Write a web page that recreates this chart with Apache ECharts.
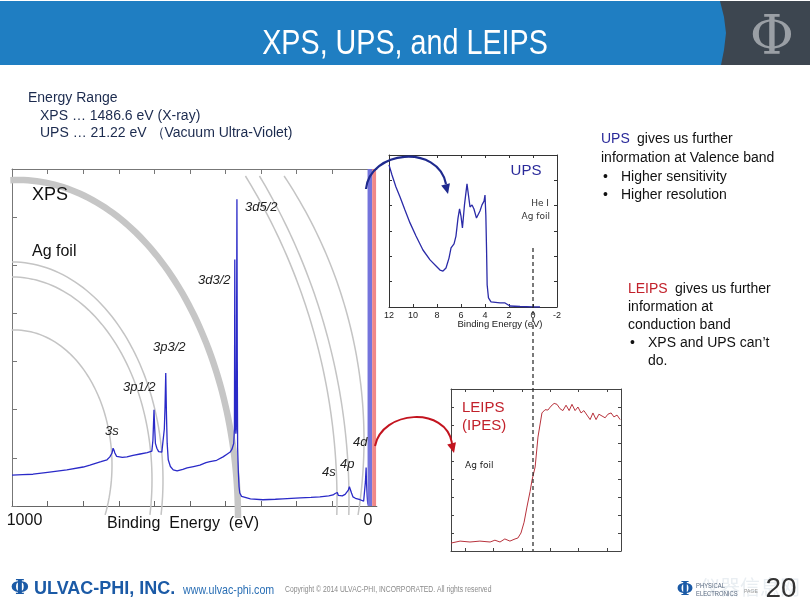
<!DOCTYPE html>
<html><head><meta charset="utf-8">
<script src="https://cdn.jsdelivr.net/npm/echarts@6/dist/echarts.min.js"></script>
<style>html,body{margin:0;padding:0;background:#fff}#c{width:810px;height:608px}</style>
</head><body><div id="c"></div>
<script>
// ---------------- DATA ----------------
const xpsBindingEnergy = [1000,970,941,900,846,800,781,750,733,725,719,716,713,711,706,702,690,677,660,640,620,607,604,601,599,597,593,588,584,579,576,572,570,568,566,564,561,555,547,536,520,508,490,472,455,444,425,407,395,387,382,379,377,375,374,373,371,370,369,368,367,366,364,362,360,355,351,330,295,260,239,215,190,160,135,110,98,92,88,86,83,80,72,64,59,55,52,49,46,42,35,22,12,9,7,5,4,2,1,0,-2];
const xpsIntensity     = [0.64,0.65,0.66,0.70,0.75,0.81,0.85,0.92,0.96,1.02,1.10,1.20,1.15,1.10,1.03,1.00,1.01,1.02,1.05,1.08,1.11,1.14,1.37,2.00,1.60,1.30,1.20,1.13,1.10,1.12,1.16,1.60,2.06,2.76,1.90,1.30,0.96,0.82,0.75,0.73,0.76,0.79,0.82,0.85,0.90,0.92,0.95,1.02,1.08,1.12,1.18,1.22,1.30,1.60,5.12,2.00,1.50,1.60,3.50,6.37,3.00,1.20,0.70,0.40,0.27,0.20,0.17,0.15,0.13,0.14,0.15,0.16,0.17,0.18,0.19,0.21,0.23,0.26,0.30,0.28,0.22,0.20,0.21,0.24,0.27,0.33,0.40,0.38,0.27,0.19,0.16,0.13,0.10,0.12,0.50,0.80,0.50,0.20,0.10,0.05,0.02];
const xpsTickValues  = [0,100,200,300,400,500,600,700,800,900,1000];
const xpsTickLabels  = [0,1000];
const upsBindingEnergy = [12.0,11.75,11.42,11.08,10.67,10.25,9.75,9.17,8.58,8.08,7.75,7.5,7.25,7.0,6.83,6.58,6.42,6.25,6.12,6.0,5.88,5.71,5.5,5.38,5.25,5.08,4.92,4.71,4.58,4.42,4.25,4.08,4.0,3.93,3.87,3.82,3.71,3.5,2.75,2.33,2.17,1.92,1.08,0,-0.58];
const upsIntensity     = [5.61,5.21,4.74,4.34,3.83,3.32,2.80,2.25,1.86,1.62,1.46,1.42,1.54,1.93,2.33,2.49,2.80,3.51,3.87,3.59,3.12,4.03,4.86,4.42,3.95,4.03,3.87,3.51,3.51,3.79,4.03,4.18,4.42,3.63,2.25,0.87,0.36,0.20,0.16,0.16,0.12,0.04,0.02,0.0,0.0];
const upsTickLabels = [12,10,8,6,4,2,0,-2];
const leipsEnergy    = [-2.90,-2.58,-2.23,-1.88,-1.52,-1.35,-1.17,-1.00,-0.82,-0.64,-0.54,-0.43,-0.32,-0.22,-0.11,-0.04,0.07,0.17,0.31,0.42,0.52,0.63,0.74,0.84,0.95,1.05,1.16,1.27,1.37,1.48,1.58,1.69,1.79,1.90,2.01,2.11,2.22,2.32,2.43,2.54,2.64,2.75,2.85,2.96,3.07];
const leipsIntensity = [0.44,0.55,0.50,0.55,0.50,0.60,0.50,0.67,0.55,0.67,0.72,1.00,1.60,2.44,3.30,3.94,4.67,6.33,7.67,7.85,7.83,8.05,8.20,8.15,7.90,7.80,8.10,7.80,8.15,7.80,8.00,7.67,7.80,7.55,7.30,7.67,7.30,7.60,7.50,7.40,7.60,7.67,7.45,7.55,7.30];
const leipsTickValues = [-2.4,-1.4,-0.4,0.6,1.6,2.6];
const xpsPeakNames = ['3d5/2','3d3/2','3p3/2','3p1/2','3s','4s','4p','4d'];

// ---------------- LAYOUT / STYLE ----------------
const FONT = "'Liberation Sans', Arial, sans-serif";
const peakLabelPos = [[245,207],[198,280],[153,347],[123,387],[105,431],[322,472],[340,464],[353,442]];

const chart = echarts.init(document.getElementById('c'), null, {renderer:'canvas'});
const zip = (a,b)=>a.map((v,i)=>[v,b[i]]);

function axisCfg(o){return Object.assign({type:'value',splitLine:{show:false},axisLabel:{show:false}},o);}
function line(c,w){return {show:true,onZero:false,lineStyle:{color:c,width:w||1}};}
function tick(c,len,extra){return Object.assign({show:true,inside:true,length:len,lineStyle:{color:c}},extra||{});}

const option = {
  animation:false,
  backgroundColor:'#ffffff',
  grid:[
    {left:12,top:169,width:364.8,height:337,outerBoundsMode:'none',containLabel:false},
    {left:389,top:155,width:168,height:152,outerBoundsMode:'none',containLabel:false},
    {left:451,top:389,width:170,height:162,outerBoundsMode:'none',containLabel:false}
  ],
  xAxis:[
    axisCfg({gridIndex:0,min:-25,max:1000,inverse:true,position:'bottom',
      axisLine:line('#666',1.2),
      axisTick:tick('#666',5,{customValues:xpsTickValues}),
      axisLabel:{show:true,customValues:xpsTickLabels,margin:7,color:'#111',fontSize:16,fontFamily:FONT,
        formatter:v=>v===1000?'{l|1000}':'{n|'+v+'}',
        rich:{l:{fontSize:16,fontFamily:FONT,color:'#111',padding:[0,0,0,25]},n:{fontSize:16,fontFamily:FONT,color:'#111'}}}}),
    axisCfg({gridIndex:0,min:-25,max:1000,inverse:true,position:'top',
      axisLine:line('#777'),
      axisTick:tick('#777',5,{customValues:xpsTickValues})}),
    axisCfg({gridIndex:1,min:-2,max:12,interval:2,inverse:true,position:'bottom',
      axisLine:line('#333'),
      axisTick:tick('#333',3),
      axisLabel:{show:true,margin:4,color:'#222',fontSize:9,fontFamily:FONT,
        formatter:v=>upsTickLabels.indexOf(v)>=0?String(v):''}}),
    axisCfg({gridIndex:1,min:-2,max:12,interval:2,inverse:true,position:'top',
      axisLine:line('#333'),axisTick:tick('#333',3)}),
    axisCfg({gridIndex:2,min:-2.9,max:3.1,position:'bottom',
      axisLine:line('#444'),axisTick:tick('#444',3,{customValues:leipsTickValues})}),
    axisCfg({gridIndex:2,min:-2.9,max:3.1,position:'top',
      axisLine:line('#444'),axisTick:tick('#444',3,{customValues:leipsTickValues})})
  ],
  yAxis:[
    axisCfg({gridIndex:0,min:0,max:7,interval:1,position:'left',
      axisLine:line('#777'),axisTick:tick('#777',5)}),
    axisCfg({gridIndex:1,min:0,max:6,interval:1,position:'left',
      axisLine:line('#333'),axisTick:tick('#333',3)}),
    axisCfg({gridIndex:1,min:0,max:6,interval:1,position:'right',
      axisLine:line('#333'),axisTick:tick('#333',3)}),
    axisCfg({gridIndex:2,min:0,max:9,interval:1,position:'left',
      axisLine:line('#444'),axisTick:tick('#444',3)}),
    axisCfg({gridIndex:2,min:0,max:9,interval:1,position:'right',
      axisLine:line('#444'),axisTick:tick('#444',3)})
  ],
  series:[
    {type:'line',name:'XPS',xAxisIndex:0,yAxisIndex:0,data:zip(xpsBindingEnergy,xpsIntensity),
      showSymbol:false,symbol:'none',lineStyle:{color:'#2a2ac8',width:1.3},z:5,
      markArea:{silent:true,z:6,label:{show:false},
        data:[[{xAxis:1,itemStyle:{color:'#7474dc'}},{xAxis:-12}],
              [{xAxis:-12,itemStyle:{color:'#f08888'}},{xAxis:-23}]]}},
    {type:'line',name:'UPS',xAxisIndex:2,yAxisIndex:1,data:zip(upsBindingEnergy,upsIntensity),
      showSymbol:false,symbol:'none',lineStyle:{color:'#2b2ba8',width:1.3}},
    {type:'line',name:'LEIPS',xAxisIndex:4,yAxisIndex:3,data:zip(leipsEnergy,leipsIntensity),
      showSymbol:false,symbol:'none',lineStyle:{color:'#b8323c',width:1}}
  ]
};
chart.setOption(option);

// ---------------- DECORATION ----------------
function ellipsePts(cx,cy,a,b,t0,t1,n){const p=[];for(let i=0;i<=n;i++){const t=(t0+(t1-t0)*i/n)*Math.PI/180;p.push([cx+a*Math.cos(t),cy+b*Math.sin(t)]);}return p;}
function circleByY(cx,cy,r,y0,y1){const t0=Math.asin((y0-cy)/r)*180/Math.PI,t1=Math.asin((y1-cy)/r)*180/Math.PI;return ellipsePts(cx,cy,r,r,t0,t1,60);}
function arrowHead(tip,from,len,half){const dx=tip[0]-from[0],dy=tip[1]-from[1],l=Math.hypot(dx,dy),ux=dx/l,uy=dy/l;const bx=tip[0]-ux*len,by=tip[1]-uy*len;return [tip,[bx-uy*half,by+ux*half],[bx+uy*half,by-ux*half]];}
function txt(text,x,y,o){o=o||{};const el={type:'text',silent:true,z:o.z||50,style:{text:text,x:0,y:0,fill:o.fill||'#111',font:o.font||('14px '+FONT),
  align:o.align||'left',verticalAlign:'middle',textAlign:o.align||'left',textVerticalAlign:'middle'},x:x,y:y};
  if(o.sx){el.scaleX=o.sx;}return el;}

const arcStyle={stroke:'#c4c4c4',lineWidth:1.5,fill:null};
const arcs=[
  ellipsePts(15,465,97,135,-92,21.7,60),
  ellipsePts(12,480,151,218,-90,9.2,60),
  ellipsePts(12,480,140,203,-90,9.9,60),
  circleByY(-282,500,619,176,515),
  circleByY(-282,500,631,176,515),
  circleByY(-112,440,476,176,515)
];
const g=[];
// header
g.push({type:'rect',shape:{x:0,y:1,width:810,height:64},style:{fill:'#1f7ec2'},z:1,silent:true});
g.push({type:'polygon',shape:{points:[[720,1],[810,1],[810,65],[721,65],[724,50],[726,33],[724,17]]},style:{fill:'#3d4650'},z:2,silent:true});
g.push(txt('Φ',772,40,{fill:'#9a9fa5',font:"54px 'DejaVu Serif', serif",align:'center'}));
g.push(txt('XPS, UPS, and LEIPS',405,44,{fill:'#ffffff',font:'35px '+FONT,align:'center',sx:0.82}));
// left text
const navy='#1b2a4e';
g.push(txt('Energy Range',28,98,{fill:navy}));
g.push(txt('XPS … 1486.6 eV (X-ray)',40,116,{fill:navy}));
g.push(txt('UPS … 21.22 eV （Vacuum Ultra-Violet)',40,133,{fill:navy}));
// arcs
arcs.forEach(p=>g.push({type:'polyline',shape:{points:p},style:arcStyle,z:3,silent:true}));
g.push({type:'polyline',shape:{points:ellipsePts(18,518,220,338,-92,0,80)},style:{stroke:'#c6c6c6',lineWidth:6.5,fill:null},z:3,silent:true});
// XPS labels
g.push(txt('XPS',32,195,{font:'18px '+FONT,fill:'#111'}));
g.push(txt('Ag foil',32,252,{font:'16px '+FONT,fill:'#111'}));
xpsPeakNames.forEach((n,i)=>g.push(txt(n,peakLabelPos[i][0],peakLabelPos[i][1],{font:'italic 13px '+FONT,fill:'#222'})));
g.push(txt('Binding  Energy  (eV)',183,524,{font:'16px '+FONT,fill:'#111',align:'center'}));
// UPS inset labels
g.push(txt('UPS',526,171,{font:'15px '+FONT,fill:'#2a2a9a',align:'center'}));
g.push(txt('He I',549,204,{font:"9px 'DejaVu Sans', sans-serif",fill:'#333',align:'right'}));
g.push(txt('Ag foil',550,217,{font:"9px 'DejaVu Sans', sans-serif",fill:'#333',align:'right'}));
g.push(txt('Binding Energy (eV)',500,324,{font:'9.5px '+FONT,fill:'#222',align:'center'}));
// LEIPS inset labels
g.push(txt('LEIPS',462,408,{font:'15px '+FONT,fill:'#c2212b'}));
g.push(txt('(IPES)',462,426,{font:'15px '+FONT,fill:'#c2212b'}));
g.push(txt('Ag foil',465,466,{font:"9px 'DejaVu Sans', sans-serif",fill:'#222'}));
// right texts
g.push(txt('UPS',601,139,{fill:'#2a2a9a'}));
g.push(txt('gives us further',637,139));
g.push(txt('information at Valence band',601,158));
g.push(txt('•',603,177));g.push(txt('Higher sensitivity',621,177));
g.push(txt('•',603,195));g.push(txt('Higher resolution',621,195));
g.push(txt('LEIPS',628,289,{fill:'#c2212b'}));
g.push(txt('gives us further',675,289));
g.push(txt('information at',628,307));
g.push(txt('conduction band',628,325));
g.push(txt('•',630,343));g.push(txt('XPS and UPS can\u2019t',648,343));
g.push(txt('do.',648,361));
// arrows
const blue='#1f2a8e', red='#c3141f';
g.push({type:'bezierCurve',shape:{x1:366,y1:189,cpx1:370,cpy1:150,cpx2:438,cpy2:144,x2:446,y2:184},style:{stroke:blue,lineWidth:2.2,fill:null},z:40,silent:true});
g.push({type:'polygon',shape:{points:arrowHead([448,194],[445,182],10,4.5)},style:{fill:blue},z:40,silent:true});
g.push({type:'bezierCurve',shape:{x1:375,y1:446,cpx1:382,cpy1:410,cpx2:446,cpy2:406,x2:452,y2:443},style:{stroke:red,lineWidth:2,fill:null},z:40,silent:true});
g.push({type:'polygon',shape:{points:arrowHead([454,453],[451,441],10,4.5)},style:{fill:red},z:40,silent:true});
// dashed zero line through UPS and LEIPS
const zx = chart.convertToPixel({xAxisIndex:2},0);
const zTop = chart.convertToPixel({yAxisIndex:1},2.33);
const zBot = chart.convertToPixel({yAxisIndex:3},0);
g.push({type:'line',shape:{x1:zx,y1:zTop,x2:zx,y2:zBot},style:{stroke:'#222',lineWidth:1.2,lineDash:[4,3]},z:45,silent:true});
// footer
const fblue='#1b5aa6';
g.push(txt('Φ',20,589,{font:"bold 21px 'DejaVu Serif', serif",fill:fblue,align:'center'}));
g.push(txt('ULVAC-PHI, INC.',34,589,{font:'bold 18px '+FONT,fill:fblue}));
g.push(txt('www.ulvac-phi.com',183,590,{font:'13px '+FONT,fill:'#2a6fb5',sx:0.82}));
g.push(txt('Copyright © 2014 ULVAC-PHI, INCORPORATED. All rights reserved',285,590,{font:'8.5px '+FONT,fill:'#8a8a8a',sx:0.8}));
g.push(txt('仪器信息网',700,587,{font:"20px 'Noto Sans CJK SC', sans-serif",fill:'#e9eef2'}));
g.push(txt('Φ',685,590,{font:"bold 19px 'DejaVu Serif', serif",fill:fblue,align:'center'}));
g.push(txt('PHYSICAL',696,586,{font:'6.5px '+FONT,fill:'#5a6a80',sx:0.9}));
g.push(txt('ELECTRONICS',696,594,{font:'6.5px '+FONT,fill:'#5a6a80',sx:0.9}));
g.push(txt('PAGE',744,591,{font:'6px '+FONT,fill:'#999',sx:0.85}));
g.push(txt('20',781,589,{font:'28px '+FONT,fill:'#333',align:'center'}));

chart.setOption({graphic:{elements:g}});
</script></body></html>
